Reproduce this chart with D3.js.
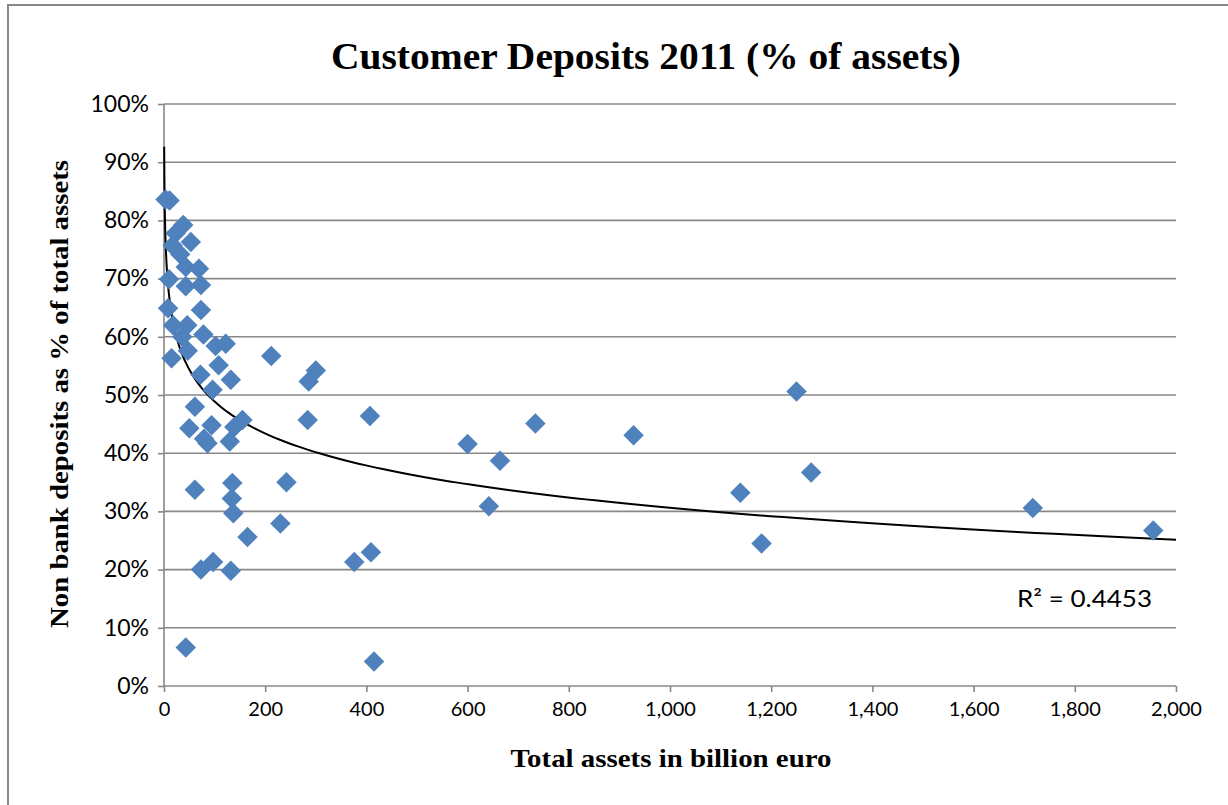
<!DOCTYPE html>
<html>
<head>
<meta charset="utf-8">
<script src="https://cdn.jsdelivr.net/npm/d3@7"></script>
<style>
  body { margin: 0; background: #fff; }
</style>
</head>
<body>
<script>
// ---------------------------------- Data ----------------------------------
// total assets (billion euro) and non bank deposits (% of assets)
var assets = [3, 11, 38, 23, 53, 17, 32, 43, 69, 10, 43, 73, 8, 73, 18, 46, 78, 36,
  102, 122, 15, 47, 212, 108, 300, 286, 72, 132, 96, 61, 155, 284, 50, 94, 139,
  79, 86, 130, 61, 135, 242, 134, 137, 165, 230, 73, 97, 132, 43, 376, 409, 415,
  407, 600, 664, 642, 734, 928, 1139, 1250, 1279, 1181, 1717, 1955];
var deposits = [83.6, 83.4, 79.2, 77.8, 76.3, 75.7, 74.2, 72.0, 71.7, 69.9, 68.7,
  68.9, 64.9, 64.6, 62.0, 62.0, 60.4, 60.0, 58.4, 58.8, 56.3, 57.6, 56.7, 55.1,
  54.2, 52.3, 53.5, 52.6, 50.9, 48.0, 45.7, 45.7, 44.3, 44.8, 44.5, 42.5, 41.7,
  42.0, 33.7, 34.9, 35.0, 32.2, 29.7, 25.6, 27.9, 20.0, 21.3, 19.8, 6.6, 21.3,
  23.0, 4.2, 46.4, 41.6, 38.7, 30.9, 45.1, 43.1, 33.2, 50.6, 36.7, 24.5, 30.6, 26.7];

var xTicks = [0, 200, 400, 600, 800, 1000, 1200, 1400, 1600, 1800, 2000];
var yTicks = [0, 10, 20, 30, 40, 50, 60, 70, 80, 90, 100];

// logarithmic trendline as shown on the chart: y = a*ln(x) + b (in %)
var trendA = -7.93;
var trendB = 85.4;
var trendFrom = 0.4;
var rSquared = "R² = 0.4453";

// ------------------------------- Chart Setup ------------------------------
function drawChart() {
  var width = 1228;
  var height = 805;
  var pLeft = 164, pRight = 1176, pTop = 104, pBottom = 686;

  var svg = d3.select("body").append("svg")
    .attr("width", width)
    .attr("height", height);

  // chart frame
  svg.append("rect")
    .attr("x", 8).attr("y", 5)
    .attr("width", 1240).attr("height", 820)
    .attr("fill", "none")
    .attr("stroke", "#888")
    .attr("stroke-width", 2);

  var x = d3.scaleLinear().domain([0, 2000]).range([pLeft, pRight]);
  var y = d3.scaleLinear().domain([0, 100]).range([pBottom, pTop]);

  // horizontal gridlines
  svg.append("g")
    .selectAll("line")
    .data(yTicks.slice(1))
    .enter().append("line")
    .attr("x1", pLeft).attr("x2", pRight)
    .attr("y1", function(d) { return y(d); })
    .attr("y2", function(d) { return y(d); })
    .attr("stroke", "#888")
    .attr("stroke-width", 1.6);

  // axes
  var yAxis = d3.axisLeft(y)
    .tickValues(yTicks)
    .tickSize(6)
    .tickPadding(9)
    .tickFormat(function(d) { return d + "%"; });
  var xAxis = d3.axisBottom(x)
    .tickValues(xTicks)
    .tickSize(6)
    .tickPadding(10)
    .tickFormat(d3.format(","));

  var gy = svg.append("g").attr("transform", "translate(" + pLeft + ",0)").call(yAxis);
  var gx = svg.append("g").attr("transform", "translate(0," + pBottom + ")").call(xAxis);

  [gx, gy].forEach(function(g) {
    g.selectAll("path, line").attr("stroke", "#888").attr("stroke-width", 1.6);
    g.select("path.domain").attr("d", g === gx
      ? "M" + pLeft + ",0H" + pRight
      : "M0," + pBottom + "V" + pTop);
    g.selectAll("text")
      .attr("fill", "#000")
      .style("font-family", "Lato, 'Open Sans', sans-serif");
  });
  gy.selectAll("text").style("font-size", "23px");
  gx.selectAll("text").style("font-size", "20px");

  // trendline
  var trendX = d3.range(0, 400).map(function(i) {
    return trendFrom * Math.pow(2000 / trendFrom, i / 399);
  });
  var line = d3.line()
    .x(function(d) { return x(d); })
    .y(function(d) { return y(trendA * Math.log(d) + trendB); });
  svg.append("path")
    .datum(trendX)
    .attr("d", line)
    .attr("fill", "none")
    .attr("stroke", "#000")
    .attr("stroke-width", 2);

  // points
  var points = assets.map(function(a, i) { return [a, deposits[i]]; });
  var diamond = d3.symbol().type(d3.symbolSquare).size(210);
  svg.append("g")
    .selectAll("path")
    .data(points)
    .enter().append("path")
    .attr("d", diamond)
    .attr("transform", function(d) {
      return "translate(" + x(d[0]) + "," + y(d[1]) + ") rotate(45)";
    })
    .attr("fill", "#4f81bd");

  // R squared label
  svg.append("text")
    .attr("x", 1017).attr("y", 607)
    .style("font-family", "Lato, 'Open Sans', sans-serif")
    .style("font-size", "24px")
    .attr("textLength", 135)
    .attr("lengthAdjust", "spacingAndGlyphs")
    .text(rSquared);

  // titles
  svg.append("text")
    .attr("x", 646).attr("y", 69)
    .attr("text-anchor", "middle")
    .style("font-family", "'Liberation Serif', serif")
    .style("font-weight", "bold")
    .style("font-size", "38px")
    .attr("textLength", 630)
    .attr("lengthAdjust", "spacingAndGlyphs")
    .text("Customer Deposits 2011 (% of assets)");

  svg.append("text")
    .attr("x", 671).attr("y", 767)
    .attr("text-anchor", "middle")
    .style("font-family", "'Liberation Serif', serif")
    .style("font-weight", "bold")
    .style("font-size", "25px")
    .attr("textLength", 321)
    .attr("lengthAdjust", "spacingAndGlyphs")
    .text("Total assets in billion euro");

  svg.append("text")
    .attr("transform", "translate(68,394) rotate(-90)")
    .attr("text-anchor", "middle")
    .style("font-family", "'Liberation Serif', serif")
    .style("font-weight", "bold")
    .style("font-size", "25px")
    .attr("textLength", 468)
    .attr("lengthAdjust", "spacingAndGlyphs")
    .text("Non bank deposits as % of total assets");
}

drawChart();
</script>
</body>
</html>
